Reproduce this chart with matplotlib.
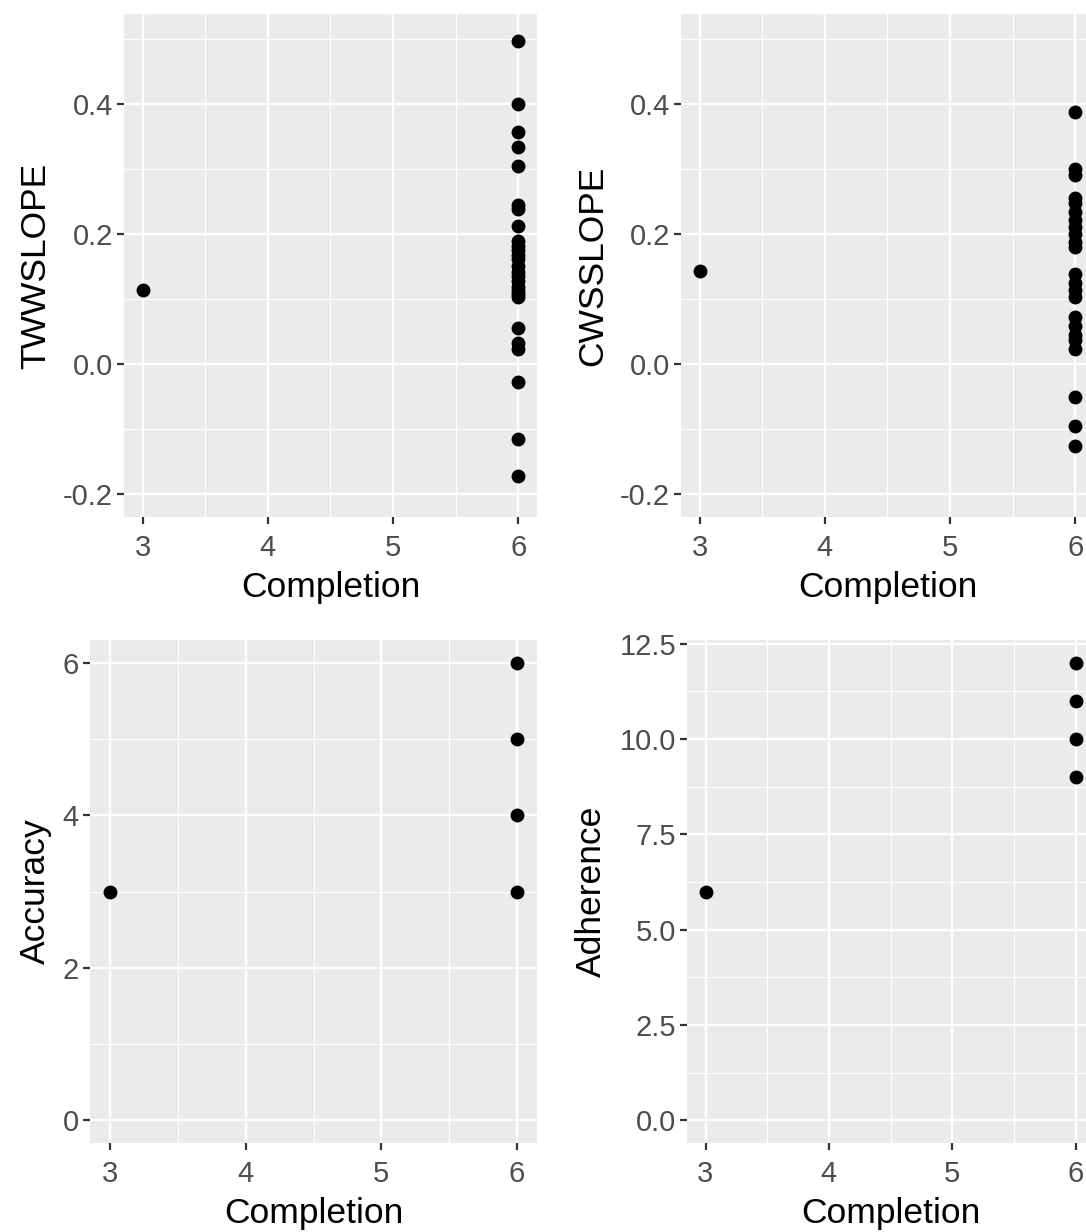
import matplotlib
matplotlib.use("Agg")
import matplotlib.pyplot as plt
from matplotlib.ticker import MultipleLocator

plt.rcParams['font.family'] = ['Liberation Sans', 'DejaVu Sans']

# Data
completion_tl = [3] + [6] * 27
twwslope = [0.114,
            0.497, 0.400, 0.357, 0.334, 0.305, 0.245, 0.238, 0.212, 0.189,
            0.182, 0.175, 0.168, 0.162, 0.151, 0.142, 0.135, 0.128, 0.118,
            0.112, 0.108, 0.103, 0.055, 0.032, 0.023, -0.028, -0.115, -0.172]

completion_tr = [3] + [6] * 23
cwsslope = [0.143,
            0.387, 0.300, 0.290, 0.256, 0.247, 0.233, 0.222, 0.210, 0.200,
            0.187, 0.180, 0.138, 0.124, 0.114, 0.103, 0.072, 0.058, 0.045,
            0.037, 0.023, -0.051, -0.095, -0.126]

completion_bl = [3, 6, 6, 6, 6]
accuracy = [3, 6, 5, 4, 3]

completion_br = [3, 6, 6, 6, 6]
adherence = [6, 12, 11, 10, 9]

W, H = 1086, 1232
fig = plt.figure(figsize=(W / 100, H / 100), dpi=100)


def panel(left, top, right, bottom):
    return fig.add_axes([left / W, 1 - bottom / H, (right - left) / W, (bottom - top) / H])


def style(ax, ylabel, ylim, ymajor, yfmt):
    ax.set_facecolor('#EBEBEB')
    for s in ax.spines.values():
        s.set_visible(False)
    ax.set_xlim(2.85, 6.15)
    ax.set_ylim(*ylim)
    ax.xaxis.set_major_locator(MultipleLocator(1))
    ax.xaxis.set_minor_locator(MultipleLocator(0.5))
    ax.yaxis.set_major_locator(MultipleLocator(ymajor))
    ax.yaxis.set_minor_locator(MultipleLocator(ymajor / 2))
    ax.yaxis.set_major_formatter(matplotlib.ticker.FormatStrFormatter(yfmt))
    ax.grid(which='major', color='white', linewidth=1.7)
    ax.grid(which='minor', color='white', linewidth=0.85)
    ax.set_axisbelow(True)
    ax.tick_params(which='major', length=5, width=1.6, color='#333333',
                   labelsize=21, labelcolor='#4D4D4D', pad=3)
    ax.tick_params(axis='x', which='major', pad=7)
    ax.tick_params(which='minor', length=0)
    ax.set_xlabel('Completion', fontsize=25.5, color='black', labelpad=7)
    ax.set_ylabel(ylabel, fontsize=25.5, color='black', labelpad=8)


ax1 = panel(124, 14, 537, 517)
ax1.scatter(completion_tl, twwslope, s=100, color='black', zorder=3, linewidths=0)
style(ax1, 'TWWSLOPE', (-0.235, 0.538), 0.2, '%.1f')

ax2 = panel(681, 14, 1094, 517)
ax2.scatter(completion_tr, cwsslope, s=100, color='black', zorder=3, linewidths=0)
style(ax2, 'CWSSLOPE', (-0.235, 0.538), 0.2, '%.1f')

ax3 = panel(90, 640, 537, 1143)
ax3.scatter(completion_bl, accuracy, s=100, color='black', zorder=3, linewidths=0)
style(ax3, 'Accuracy', (-0.3, 6.3), 2, '%d')

ax4 = panel(687, 640, 1094, 1143)
ax4.scatter(completion_br, adherence, s=100, color='black', zorder=3, linewidths=0)
style(ax4, 'Adherence', (-0.6, 12.6), 2.5, '%.1f')

fig.savefig('out.png', dpi=100)
